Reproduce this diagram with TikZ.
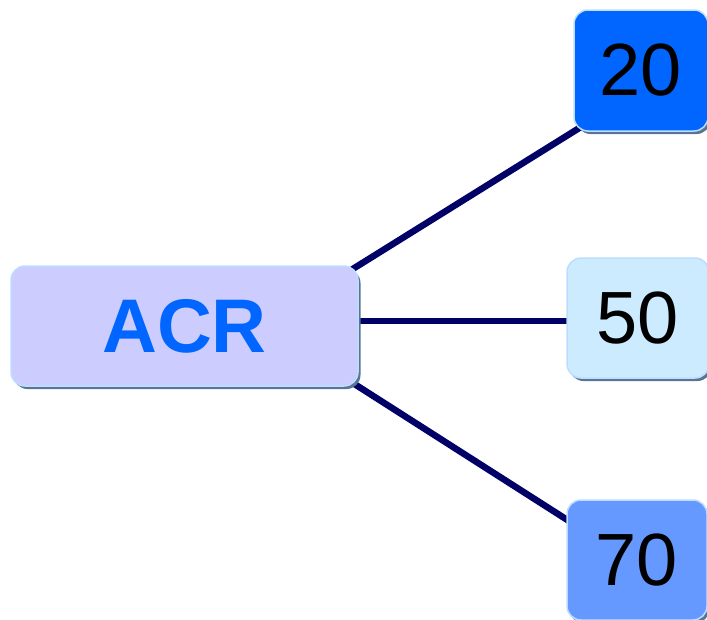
\documentclass[tikz,border=0pt]{standalone}
\usepackage{fontspec}
\setmainfont{Liberation Sans}
\usetikzlibrary{shadows,backgrounds}
\definecolor{edgeblue}{HTML}{000066}
\definecolor{rimblue}{HTML}{BBDDFF}
\definecolor{shadeblue}{HTML}{5A7594}
\definecolor{acrfill}{HTML}{CCCCFF}
\definecolor{acrtext}{HTML}{0066FF}
\definecolor{fillA}{HTML}{0066FF}
\definecolor{fillB}{HTML}{CCEBFF}
\definecolor{fillC}{HTML}{6699FF}
\tikzset{
  box/.style={rounded corners=14pt, draw=rimblue, line width=1.5pt,
    inner sep=0pt, minimum height=120pt,
    drop shadow={shadow xshift=2.5pt, shadow yshift=-3pt, fill=shadeblue, opacity=1}},
  valuebox/.style={box, font=\fontsize{74}{80}\selectfont, text=black},
  link/.style={draw=edgeblue, line width=6.5pt, shorten <=-8pt, shorten >=-14pt}
}
\begin{document}
\begin{tikzpicture}[x=1pt,y=-1pt]
  \useasboundingbox (0,0) rectangle (707,619);
  \node[box, fill=acrfill, minimum width=347pt, text=acrtext,
        font=\fontsize{76}{80}\selectfont\bfseries] (acr) at (184.5,326) {ACR};
  \node[valuebox, fill=fillA, minimum width=134pt, minimum height=121pt] (n20) at (641,70.5) {20};
  \node[valuebox, fill=fillB, minimum width=142pt] (n50) at (638,318) {50};
  \node[valuebox, fill=fillC, minimum width=140pt] (n70) at (637,560) {70};
  \begin{pgfonlayer}{background}
    \draw[link] (acr.north east) -- (n20.south west);
    \draw[link] ([yshift=-3pt]n50.west -| acr.east) -- ([yshift=-3pt]n50.west);
    \draw[link] (acr.south east) -- ([yshift=-20pt]n70.north west);
  \end{pgfonlayer}
\end{tikzpicture}
\end{document}
